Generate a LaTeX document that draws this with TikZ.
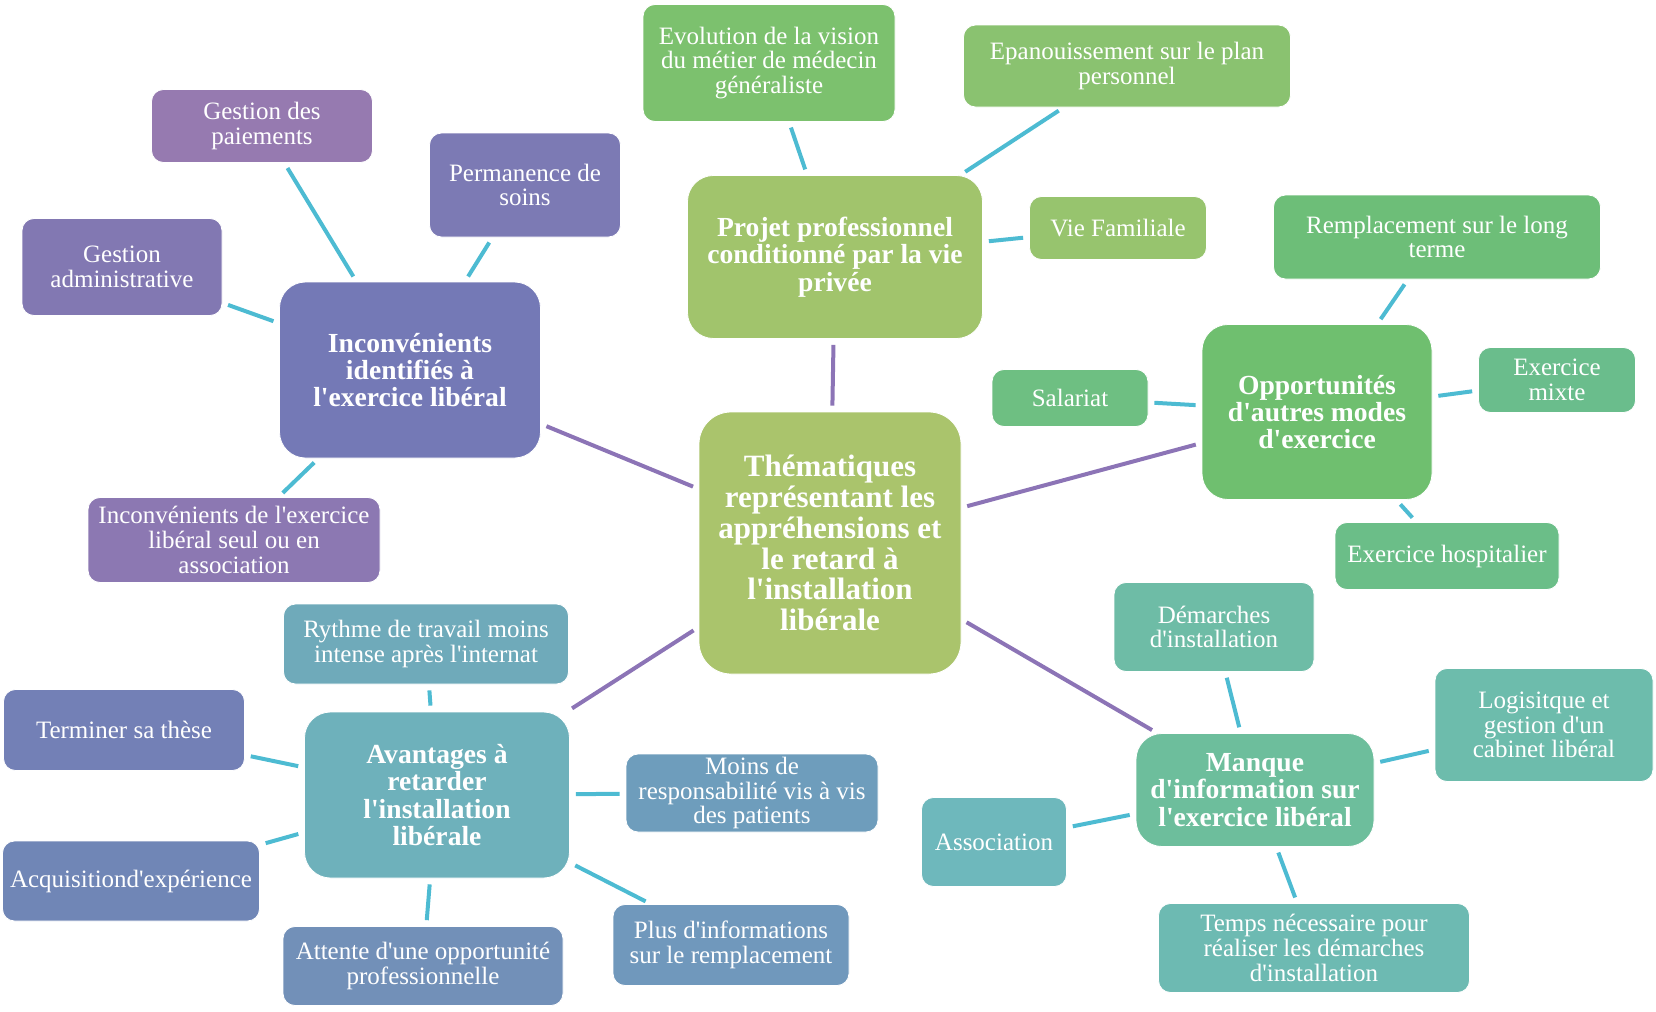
\documentclass[tikz,border=0pt]{standalone}
\usepackage{fontspec}
\setmainfont{Liberation Serif}
\newcommand{\apo}{\textquotesingle}
\definecolor{centrecol}{HTML}{AAC46C}
\definecolor{inconvcol}{HTML}{7479B6}
\definecolor{paiecol}{HTML}{967AB0}
\definecolor{admincol}{HTML}{8278B2}
\definecolor{permcol}{HTML}{7C7AB4}
\definecolor{seulcol}{HTML}{8C78B2}
\definecolor{projetcol}{HTML}{A1C46C}
\definecolor{evolcol}{HTML}{7CC16E}
\definecolor{epancol}{HTML}{8AC270}
\definecolor{viecol}{HTML}{97C46E}
\definecolor{opportcol}{HTML}{6FBF6F}
\definecolor{rempcol}{HTML}{6DBE78}
\definecolor{mixtecol}{HTML}{6ABD8C}
\definecolor{hospcol}{HTML}{6BBE88}
\definecolor{salcol}{HTML}{6EBF82}
\definecolor{manquecol}{HTML}{6DBE9C}
\definecolor{demcol}{HTML}{6EBCA6}
\definecolor{logcol}{HTML}{6DBCAC}
\definecolor{assoccol}{HTML}{6EB8BC}
\definecolor{tempscol}{HTML}{6DBAB2}
\definecolor{avantcol}{HTML}{6EB1BB}
\definecolor{rythmecol}{HTML}{6FAABA}
\definecolor{thesecol}{HTML}{7380B6}
\definecolor{moinscol}{HTML}{6E9DBC}
\definecolor{acqcol}{HTML}{7086B6}
\definecolor{attcol}{HTML}{7290B8}
\definecolor{pluscol}{HTML}{7098BC}
\definecolor{twigcol}{HTML}{4DBBD2}
\definecolor{branchcol}{HTML}{8C74B6}

\begin{document}
\begin{tikzpicture}[x=0.5pt, y=-0.5pt,
  every node/.style = {shape=rectangle, align=center, text=white, inner sep=0pt, draw=white, line width=0.4pt},
  sz/.style 2 args = {minimum width=#1*0.5pt, minimum height=#2*0.5pt},
  leaf/.style = {font=\fontsize{12.5}{12.4}\selectfont, rounded corners=6pt},
  theme/.style = {font=\bfseries\fontsize{13.8}{13.7}\selectfont, rounded corners=13pt},
  twig/.style = {line width=2pt, twigcol, shorten >=3pt, shorten <=3pt},
  branch/.style = {line width=2pt, branchcol, shorten >=3pt, shorten <=3pt}]

  \useasboundingbox (0,0) rectangle (1656,1012);

  \node[theme, sz={262}{262}, fill=centrecol, rounded corners=16pt,
        font=\bfseries\fontsize{15.5}{15.4}\selectfont] (centre) at (830,543)
    {Thématiques\\représentant les\\appréhensions et\\le retard à\\l\apo installation\\libérale};

  \node[theme, sz={261}{176}, fill=inconvcol] (inconv) at (410,370)
    {Inconvénients\\identifiés à\\l\apo exercice libéral};
  \node[leaf, sz={221}{73}, fill=paiecol] (paie) at (262,126) {Gestion des\\paiements};
  \node[leaf, sz={200}{97}, fill=admincol] (admin) at (122,267) {Gestion\\administrative};
  \node[leaf, sz={191}{104}, fill=permcol] (perm) at (525,185) {Permanence de\\soins};
  \node[leaf, sz={292}{85}, fill=seulcol] (seul) at (234,540)
    {Inconvénients de l\apo exercice\\libéral seul ou en\\association};

  \node[theme, sz={295}{163}, fill=projetcol] (projet) at (835,257)
    {Projet professionnel\\conditionné par la vie\\privée};
  \node[leaf, sz={252}{117}, fill=evolcol] (evol) at (769,63)
    {Evolution de la vision\\du métier de médecin\\généraliste};
  \node[leaf, sz={327}{82}, fill=epancol] (epan) at (1127,66)
    {Epanouissement sur le plan\\personnel};
  \node[leaf, sz={177}{63}, fill=viecol] (vie) at (1118,228) {Vie Familiale};

  \node[theme, sz={230}{175}, fill=opportcol] (opport) at (1317,412)
    {Opportunités\\d\apo autres modes\\d\apo exercice};
  \node[leaf, sz={327}{84}, fill=rempcol] (remp) at (1437,237)
    {Remplacement sur le long\\terme};
  \node[leaf, sz={157}{65}, fill=mixtecol] (mixte) at (1557,380) {Exercice\\mixte};
  \node[leaf, sz={224}{67}, fill=hospcol] (hosp) at (1447,556) {Exercice hospitalier};
  \node[leaf, sz={156}{57}, fill=salcol] (sal) at (1070,398) {Salariat};

  \node[theme, sz={238}{113}, fill=manquecol] (manque) at (1255,790)
    {Manque\\d\apo information sur\\l\apo exercice libéral};
  \node[leaf, sz={200}{89}, fill=demcol] (dem) at (1214,627) {Démarches\\d\apo installation};
  \node[leaf, sz={218}{113}, fill=logcol] (logis) at (1544,725)
    {Logisitque et\\gestion d\apo un\\cabinet libéral};
  \node[leaf, sz={145}{89}, fill=assoccol] (assoc) at (994,842) {Association};
  \node[leaf, sz={311}{89}, fill=tempscol] (temps) at (1314,948)
    {Temps nécessaire pour\\réaliser les démarches\\d\apo installation};

  \node[theme, sz={265}{166}, fill=avantcol] (avant) at (437,795)
    {Avantages à\\retarder\\l\apo installation\\libérale};
  \node[leaf, sz={285}{80}, fill=rythmecol] (rythme) at (426,644)
    {Rythme de travail moins\\intense après l\apo internat};
  \node[leaf, sz={241}{81}, fill=thesecol] (these) at (124,730) {Terminer sa thèse};
  \node[leaf, sz={252}{78}, fill=moinscol] (moins) at (752,793)
    {Moins de\\responsabilité vis à vis\\des patients};
  \node[leaf, sz={257}{80}, fill=acqcol] (acq) at (131,881) {Acquisitiond\apo expérience};
  \node[leaf, sz={280}{79}, fill=attcol] (att) at (423,966)
    {Attente d\apo une opportunité\\professionnelle};
  \node[leaf, sz={236}{81}, fill=pluscol] (plus) at (731,945)
    {Plus d\apo informations\\sur le remplacement};

  \foreach \t in {inconv, projet, opport, avant, manque}
    \draw[branch] (centre) -- (\t);

  \foreach \a/\b in {inconv/paie, inconv/admin, inconv/perm, inconv/seul,
                     projet/evol, projet/epan, projet/vie,
                     opport/remp, opport/mixte, opport/hosp, opport/sal,
                     manque/dem, manque/logis, manque/assoc, manque/temps,
                     avant/rythme, avant/these, avant/moins, avant/acq, avant/att, avant/plus}
    \draw[twig] (\a) -- (\b);
\end{tikzpicture}
\end{document}
